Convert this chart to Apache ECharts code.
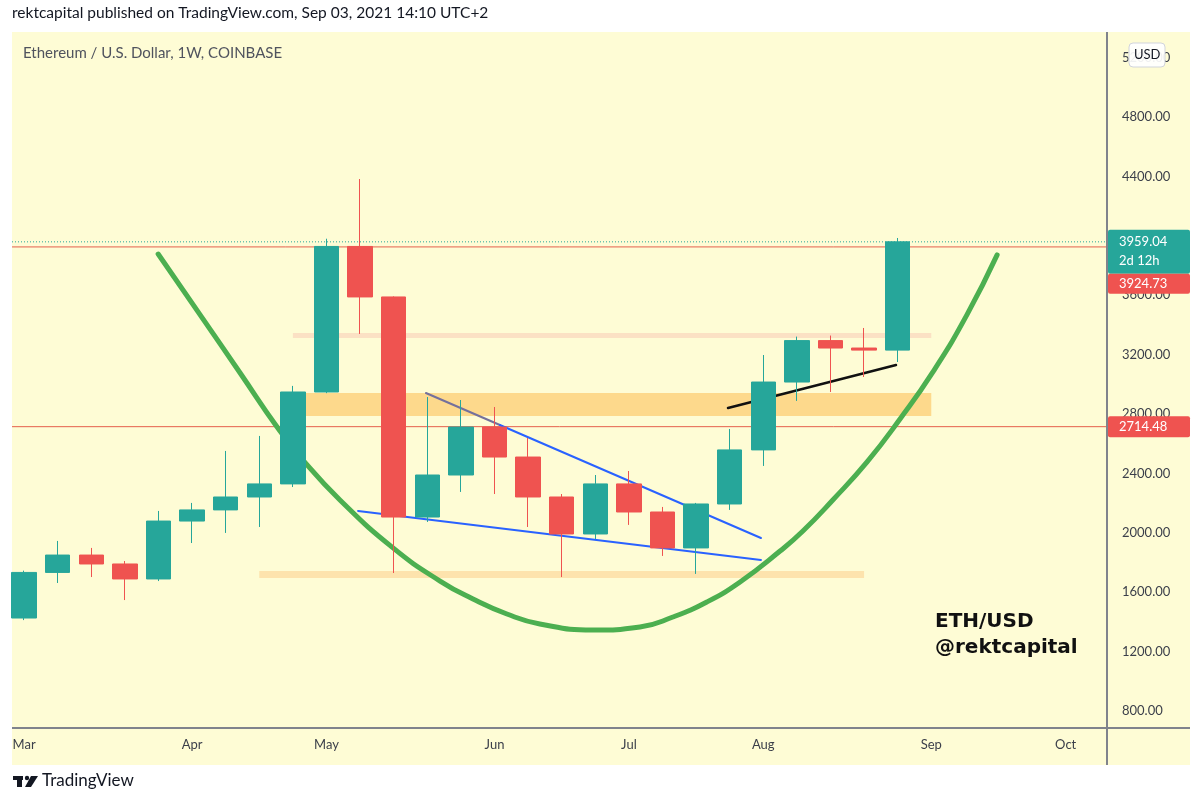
<!DOCTYPE html>
<html>
<head>
<meta charset="utf-8">
<title>ETH/USD 1W</title>
<script src="https://cdn.jsdelivr.net/npm/echarts@6/dist/echarts.min.js"></script>
<style>
  html, body { margin: 0; padding: 0; background: #fff; }
  #main { width: 1200px; height: 804px; }
</style>
</head>
<body>
<div id="main"></div>
<script>
// weekly candles ETH/USD (Coinbase), week of 2021-03-01 .. 2021-08-30
var weeks  = ['Mar 01','Mar 08','Mar 15','Mar 22','Mar 29','Apr 05','Apr 12','Apr 19','Apr 26',
              'May 03','May 10','May 17','May 24','May 31','Jun 07','Jun 14','Jun 21','Jun 28',
              'Jul 05','Jul 12','Jul 19','Jul 26','Aug 02','Aug 09','Aug 16','Aug 23','Aug 30'];
var opens  = [1426,1733,1850,1790,1689,2079,2154,2241,2329,2948,3928,3588,2106,2389,2712,2510,2241,1992,2329,2140,1898,2194,2558,3015,3294,3244,3230];
var closes = [1733,1850,1790,1689,2079,2154,2241,2329,2948,3928,3588,2106,2389,2712,2510,2241,1992,2329,2140,1898,2194,2558,3015,3294,3244,3230,3959.04];
var lows   = [1412,1662,1702,1547,1675,1931,1999,2039,2308,2940,3339,1729,2073,2275,2261,2039,1702,1958,2053,1844,1723,2154,2450,2888,2948,3049,3150];
var highs  = [1745,1945,1898,1810,2147,2201,2551,2652,2989,3980,4382,3592,2914,2894,2847,2638,2261,2389,2416,2174,2201,2699,3197,3321,3328,3379,3985];

// time axis: bar index of first weekly bar in each month
var monthIdx   = [0, 5, 9, 14, 18, 22, 27, 31];
var monthNames = ['Mar', 'Apr', 'May', 'Jun', 'Jul', 'Aug', 'Sep', 'Oct'];
var priceTicks = [800, 1200, 1600, 2000, 2400, 2800, 3200, 3600, 4000, 4400, 4800, 5200];

// horizontal levels and current price
var levelPrices = [3924.73, 2714.48];
var lastClose = 3959.04;

// rectangles: bar from, bar to, low, high
var zoneFrom = [8, 8, 7];
var zoneTo   = [27, 27, 25];
var zoneLow  = [3312, 2787, 1696];
var zoneHigh = [3345, 2941, 1743];

// trend lines [bar, price]
var wedgeTopA   = [[11.96, 2941], [14.16, 2726]];
var wedgeTopB   = [[14.16, 2726], [21.93, 1965]];
var wedgeBottom = [[9.94, 2147], [21.93, 1817]];
var supportLine = [[20.95, 2840], [25.95, 3130]];

// cup curve, points
var cupX = [3.99, 5.24, 6.43, 7.53, 8.30, 9.40, 10.98, 12.38, 13.36, 14.37, 15.35, 16.93,
            18.33, 19.31, 20.32, 21.31, 22.50, 23.18, 24.07, 25.09, 26.07, 27.05, 28.06, 28.96];
var cupY = [3877, 3467, 3076, 2712, 2490, 2221, 1898, 1675, 1554, 1453, 1386, 1345,
            1366, 1433, 1534, 1669, 1877, 2012, 2221, 2477, 2766, 3083, 3467, 3871];

var xMin = -0.36, xMax = 32.23;
var yMin = 685.5, yMax = 5372;

var UP = '#26a69a', DOWN = '#ef5350';
var FONT = 'Lato, "Open Sans", sans-serif';

var candles = weeks.map(function (w, i) {
  return [i, opens[i], closes[i], lows[i], highs[i]];
});
var zones = zoneFrom.map(function (f, i) {
  return [f, zoneTo[i], zoneLow[i], zoneHigh[i]];
});
var zoneColors = ['#fbe1c4', '#fdd98c', '#fde3ad'];

function levelLine(p, color, type, z) {
  return {
    type: 'line', data: [[xMin, p], [xMax, p]], symbol: 'none', silent: true, z: z,
    lineStyle: { color: color, width: 1, type: type }
  };
}
function trend(data, color, width) {
  return {
    type: 'line', data: data, symbol: 'none', silent: true, z: 4,
    lineStyle: { color: color, width: width, cap: 'round' }
  };
}

var myChart = echarts.init(document.getElementById('main'));

var series = [
  {
    type: 'custom', z: 1, silent: true, data: zones,
    renderItem: function (params, api) {
      var a = api.coord([api.value(0), api.value(3)]);
      var b = api.coord([api.value(1), api.value(2)]);
      return {
        type: 'rect',
        shape: { x: a[0], y: a[1], width: b[0] - a[0], height: b[1] - a[1] },
        style: { fill: zoneColors[params.dataIndex] }
      };
    }
  },
  levelLine(levelPrices[0], '#e5604c', 'solid', 2),
  levelLine(levelPrices[1], '#e5604c', 'solid', 2),
  levelLine(lastClose, UP, [1, 2], 2),
  {
    type: 'line', z: 3, silent: true, smooth: 0.5, symbol: 'none',
    data: cupX.map(function (x, i) { return [x, cupY[i]]; }),
    lineStyle: { color: '#4caf50', width: 5, cap: 'round' }
  },
  trend(wedgeTopA, '#74709c', 2),
  trend(wedgeTopB, '#2962ff', 2),
  trend(wedgeBottom, '#2962ff', 2),
  trend(supportLine, '#111111', 2.5),
  {
    type: 'candlestick', z: 6, barWidth: 25,
    encode: { x: 0, y: [1, 2, 3, 4] },
    data: candles,
    itemStyle: { color: UP, color0: DOWN, borderColor: UP, borderColor0: DOWN, borderWidth: 1 }
  }
];

myChart.setOption({
  backgroundColor: '#ffffff',
  animation: false,
  grid: { left: 12, right: 93, top: 32, bottom: 76 },
  xAxis: {
    type: 'value', min: xMin, max: xMax,
    axisLine: { show: false }, axisTick: { show: false }, splitLine: { show: false },
    axisLabel: {
      customValues: monthIdx, margin: 10, color: '#3b3f4a', fontSize: 13, fontFamily: FONT,
      formatter: function (v) { return monthNames[monthIdx.indexOf(v)] || ''; }
    }
  },
  yAxis: {
    type: 'value', position: 'right', min: yMin, max: yMax, scale: true,
    axisLine: { show: false }, axisTick: { show: false }, splitLine: { show: false },
    axisLabel: {
      customValues: priceTicks, margin: 15, color: '#3b3f4a', fontSize: 13, fontFamily: FONT,
      formatter: function (v) { return v.toFixed(2); }
    }
  },
  series: series,
  graphic: [
    { type: 'rect', z: -10, shape: { x: 12, y: 32, width: 1178, height: 733 }, style: { fill: '#fefcd5' } },
    { type: 'line', z: 50, shape: { x1: 12, y1: 728, x2: 1190, y2: 728 }, style: { stroke: '#80838c', lineWidth: 2 } },
    { type: 'line', z: 50, shape: { x1: 1107, y1: 32, x2: 1107, y2: 765 }, style: { stroke: '#80838c', lineWidth: 2 } },
    { type: 'text', z: 50, left: 12, top: 5,
      style: { text: 'rektcapital published on TradingView.com, Sep 03, 2021 14:10 UTC+2', fill: '#131722', font: '15.5px ' + FONT } },
    { type: 'text', z: 50, left: 23, top: 46,
      style: { text: 'Ethereum / U.S. Dollar, 1W, COINBASE', fill: '#50535e', font: '15px ' + FONT } },
    { type: 'text', z: 50, x: 935, y: 622,
      style: { text: 'ETH/USD', fill: '#111111', font: 'bold 20px "DejaVu Sans"', verticalAlign: 'middle' } },
    { type: 'text', z: 50, x: 935, y: 648,
      style: { text: '@rektcapital', fill: '#111111', font: 'bold 20px "DejaVu Sans"', verticalAlign: 'middle' } },
    { type: 'rect', z: 60, shape: { x: 1129, y: 43, width: 36, height: 24, r: 4 },
      style: { fill: 'rgba(255,255,255,0.92)', stroke: '#d1d4dc', lineWidth: 1 } },
    { type: 'text', z: 61, left: 1134, top: 48, style: { text: 'USD', fill: '#131722', font: '13px ' + FONT } },
    // TradingView mark
    { type: 'rect', z: 50, shape: { x: 13, y: 776, width: 10, height: 4 }, style: { fill: '#131722' } },
    { type: 'rect', z: 50, shape: { x: 17, y: 776, width: 5, height: 11 }, style: { fill: '#131722' } },
    { type: 'circle', z: 50, shape: { cx: 27, cy: 778, r: 2.2 }, style: { fill: '#131722' } },
    { type: 'polygon', z: 50, shape: { points: [[31, 776], [38, 776], [31, 787], [25, 787]] }, style: { fill: '#131722' } },
    { type: 'text', z: 50, left: 42, top: 772, style: { text: 'TradingView', fill: '#131722', font: '17px ' + FONT } }
  ]
});

// price tags on the scale, placed at their prices
var yLast = myChart.convertToPixel({ yAxisIndex: 0 }, lastClose);
var yLevel = myChart.convertToPixel({ yAxisIndex: 0 }, levelPrices[1]);
var tagFont = '13px ' + FONT;
myChart.setOption({
  graphic: [
    { type: 'rect', id: 'tagLast', z: 70, shape: { x: 1108, y: yLast - 12, width: 82, height: 44, r: 2 }, style: { fill: UP } },
    { type: 'text', id: 'tagLastT', z: 71, x: 1119, y: yLast, style: { text: lastClose.toFixed(2), fill: '#fff', font: tagFont, verticalAlign: 'middle' } },
    { type: 'text', id: 'tagLastC', z: 71, x: 1119, y: yLast + 19, style: { text: '2d 12h', fill: '#fff', font: tagFont, verticalAlign: 'middle' } },
    { type: 'rect', id: 'tagOpen', z: 70, shape: { x: 1108, y: yLast + 32, width: 82, height: 20, r: 2 }, style: { fill: DOWN } },
    { type: 'text', id: 'tagOpenT', z: 71, x: 1119, y: yLast + 42, style: { text: levelPrices[0].toFixed(2), fill: '#fff', font: tagFont, verticalAlign: 'middle' } },
    { type: 'rect', id: 'tagLevel', z: 70, shape: { x: 1108, y: yLevel - 10.5, width: 82, height: 21, r: 2 }, style: { fill: DOWN } },
    { type: 'text', id: 'tagLevelT', z: 71, x: 1119, y: yLevel, style: { text: levelPrices[1].toFixed(2), fill: '#fff', font: tagFont, verticalAlign: 'middle' } }
  ]
});
</script>
</body>
</html>
